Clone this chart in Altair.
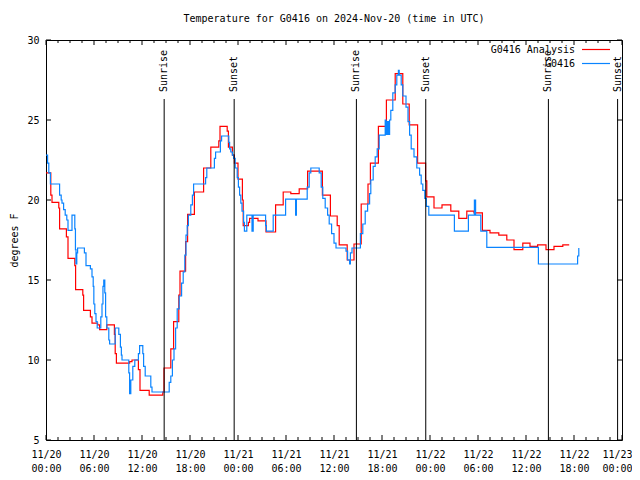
import altair as alt
import pandas as pd

FONT = "DejaVu Sans Mono"
TITLE = "Temperature for G0416 on 2024-Nov-20 (time in UTC)"
Y_TITLE = "degrees F"
SERIES = ["G0416 Analysis", "G0416"]
COLORS = ["#ff0000", "#0a84ff"]

# Analysis (red), step changes: hour since 11/20 00:00 UTC, temperature F
red_hours = [0.0, 0.6, 0.75, 1.6, 1.7, 2.55, 2.75, 3.6, 3.7, 4.6, 4.7, 5.55, 5.75, 6.45, 6.7,
             7.6, 8.55, 8.65, 8.8, 10.45, 10.75, 11.55, 11.75, 12.9, 14.6, 14.75, 15.6, 15.95,
             16.6, 16.75, 17.45, 17.7, 18.55, 19.7, 20.6, 21.6, 21.75, 22.65, 22.8, 23.3, 23.55,
             24.0, 24.55, 24.65, 25.3, 25.45, 26.5, 27.5, 28.7, 29.65, 30.6, 31.65, 32.7, 34.55,
             35.55, 36.4, 36.65, 37.65, 38.5, 39.4, 40.25, 40.55, 41.55, 42.55, 43.65, 44.6,
             45.4, 46.45, 47.45, 47.6, 48.5, 49.5, 50.6, 51.6, 52.6, 53.5, 54.55, 55.5, 56.6,
             57.6, 58.5, 59.6, 60.5, 61.45, 62.5, 63.5, 64.6, 65.4]
red_temps = [21.7, 20.3, 19.85, 19.5, 18.2, 17.7, 16.35, 15.9, 14.4, 14.05, 13.1, 12.7, 12.3, 12.2, 11.9,
             12.2, 11.6, 10.4, 9.8, 9.9, 10.0, 9.4, 8.1, 7.8, 8.0, 9.5, 10.7, 12.4,
             14.05, 15.55, 17.4, 19.1, 20.5, 22.0, 23.3, 23.7, 24.6, 24.3, 23.3, 22.8, 22.3,
             21.3, 20.0, 18.4, 18.6, 18.85, 18.7, 18.0, 19.7, 20.5, 20.4, 20.7, 21.8, 20.3,
             19.0, 18.4, 17.2, 16.25, 17.25, 19.75, 21.0, 22.3, 24.6, 26.25, 27.9, 26.0,
             24.7, 22.3, 21.2, 20.2, 19.5, 19.7, 19.3, 18.85, 19.3, 19.2, 18.1, 17.95, 17.8,
             17.5, 16.9, 17.3, 17.1, 17.2, 16.9, 17.1, 17.2, 17.2]

# Observed (blue), step changes
blue_hours = [0.0, 0.2, 0.35, 0.55, 1.7, 1.9, 2.0, 2.2, 2.4, 2.6, 2.75, 3.25, 3.6, 3.68, 3.75, 3.85,
              3.95, 4.8, 5.0, 5.55, 5.75, 5.9, 5.98, 6.1, 6.25, 6.4, 6.85, 7.0, 7.12, 7.22, 7.35,
              7.45, 7.6, 7.85, 7.95, 8.65, 9.1, 9.3, 9.42, 9.5, 10.35, 10.45, 10.6, 10.85, 11.1,
              11.55, 11.7, 12.1, 12.2, 12.4, 13.1, 13.25, 15.4, 15.6, 15.8, 16.0, 16.2, 16.4,
              16.65, 16.95, 17.15, 17.35, 17.5, 17.65, 17.8, 18.1, 18.3, 18.45, 19.95, 20.1,
              21.05, 21.2, 21.8, 21.95, 22.85, 22.95, 23.1, 23.3, 23.45, 23.65, 23.9, 24.05,
              24.2, 24.35, 24.5, 24.7, 24.8, 25.1, 25.75, 25.9, 27.45, 27.55, 28.4, 29.95,
              31.2, 31.3, 32.65, 32.9, 33.1, 34.15, 34.4, 34.6, 34.9, 35.2, 35.4, 35.7, 36.0,
              36.25, 37.5, 37.7, 37.95, 38.05, 38.25, 39.3, 39.6, 39.9, 40.2, 40.45, 40.6,
              40.9, 41.15, 41.4, 41.65, 42.4, 42.5, 42.65, 42.8, 42.95, 43.1, 43.35, 43.65,
              43.85, 44.05, 44.15, 44.4, 44.6, 45.0, 45.25, 45.45, 45.65, 46.0, 46.35, 46.7,
              46.9, 47.1, 47.35, 47.55, 47.85, 51.05, 52.8, 53.55, 53.7, 54.35, 55.1, 61.55,
              66.45, 66.6]
blue_temps = [22.8, 22.3, 21.7, 21.0, 20.3, 20.0, 19.8, 19.4, 19.06, 18.75, 18.1, 19.06, 18.2, 16.9, 16.0, 16.7,
              17.0, 16.7, 15.9, 15.7, 15.2, 14.6, 13.5, 12.9, 12.4, 12.0, 12.7, 13.5, 14.6, 15.0, 14.2,
              12.7, 12.0, 11.25, 11.0, 12.0, 11.6, 10.8, 10.3, 10.0, 9.2, 7.9, 8.75, 9.6, 10.0,
              10.4, 10.9, 10.4, 9.6, 9.0, 8.3, 8.0, 8.6, 9.0, 10.0, 10.7, 12.0, 13.2,
              14.0, 14.8, 15.5, 16.56, 17.8, 18.4, 19.06, 19.7, 20.3, 21.0, 21.4, 22.0,
              22.6, 23.0, 23.7, 24.0, 23.6, 23.2, 23.0, 22.8, 22.6, 22.0, 21.4, 20.8,
              20.3, 19.8, 19.3, 18.6, 18.06, 19.06, 18.06, 19.06, 18.4, 18.06, 19.06, 20.06,
              19.06, 20.06, 20.8, 21.7, 22.0, 21.7, 20.8, 20.1, 19.5, 19.06, 18.5, 17.9, 17.3,
              17.0, 16.8, 16.25, 16.0, 16.7, 17.0, 17.9, 18.5, 19.3, 19.75, 20.4, 21.25,
              22.1, 22.7, 23.2, 24.06, 25.0, 24.1, 24.9, 24.1, 25.0, 25.6, 26.7, 27.2,
              27.8, 28.1, 27.8, 27.2, 26.5, 25.8, 24.9, 24.06, 23.2, 22.7, 22.0, 21.56,
              21.0, 20.6, 20.1, 19.6, 19.06, 18.06, 19.06, 20.0, 19.06, 18.06, 17.04, 16.0,
              16.5, 17.0]

event_hours = [14.77, 23.52, 38.8, 47.47, 62.8, 71.45]
event_labels = ["Sunrise", "Sunset", "Sunrise", "Sunset", "Sunrise", "Sunset"]

x_tick_hours = [0, 6, 12, 18, 24, 30, 36, 42, 48, 54, 60, 66, 72]
x_tick_dates = ["11/20", "11/20", "11/20", "11/20", "11/21", "11/21", "11/21", "11/21",
                "11/22", "11/22", "11/22", "11/22", "11/23"]
x_tick_times = ["00:00", "06:00", "12:00", "18:00", "00:00", "06:00", "12:00", "18:00",
                "00:00", "06:00", "12:00", "18:00", "00:00"]
x_minor_hours = [1.5, 3, 4.5, 7.5, 9, 10.5, 13.5, 15, 16.5, 19.5, 21, 22.5, 25.5, 27, 28.5,
                 31.5, 33, 34.5, 37.5, 39, 40.5, 43.5, 45, 46.5, 49.5, 51, 52.5, 55.5, 57,
                 58.5, 61.5, 63, 64.5, 67.5, 69, 70.5]
y_tick_values = [5, 10, 15, 20, 25, 30]

W, H = 576, 400
LW = 1.2

xs = alt.Scale(domain=[0, 72], nice=False, zero=False)
ys = alt.Scale(domain=[5, 30], nice=False, zero=False)

label_js = "[" + ",".join(f"['{d}','{t}']" for d, t in zip(x_tick_dates, x_tick_times)) + "]"
x_axis = alt.Axis(values=x_tick_hours, labelExpr=label_js + "[round(datum.value/6)]",
                  ticks=False, domain=False, grid=False, labelFont=FONT, labelFontSize=10,
                  labelColor="black", labelBaseline="top", labelPadding=9, labelLineHeight=14,
                  labelFlush=False, labelOverlap=False, title=None,
                  labelOffset={"condition": {"test": f"datum.value == {x_tick_hours[-1]}", "value": -5},
                               "value": 0})
y_axis = alt.Axis(values=y_tick_values, ticks=False, domain=False, grid=False, labelFont=FONT,
                  labelFontSize=10, labelColor="black", labelPadding=7, title=Y_TITLE,
                  titleFont=FONT, titleFontSize=10, titleFontWeight="normal", titleColor="black",
                  titlePadding=7)

red_df = pd.DataFrame({"hour": red_hours, "temp": red_temps})
blue_df = pd.DataFrame({"hour": blue_hours, "temp": blue_temps})

red_line = alt.Chart(red_df).mark_line(interpolate="step-after", strokeWidth=LW, color=COLORS[0]).encode(
    x=alt.X("hour:Q", scale=xs, axis=x_axis),
    y=alt.Y("temp:Q", scale=ys, axis=y_axis),
)
blue_line = alt.Chart(blue_df).mark_line(interpolate="step-after", strokeWidth=LW, color=COLORS[1]).encode(
    x=alt.X("hour:Q", scale=xs),
    y=alt.Y("temp:Q", scale=ys),
)

ev_df = pd.DataFrame({"hour": event_hours, "label": event_labels})
ev_rules = alt.Chart(ev_df).mark_rule(color="black", strokeWidth=1).encode(
    x=alt.X("hour:Q", scale=xs), y=alt.value(59), y2=alt.value(H))
ev_text = alt.Chart(ev_df).mark_text(angle=270, align="left", baseline="middle", font=FONT,
                                     fontSize=10, color="black").encode(
    x=alt.X("hour:Q", scale=xs), y=alt.value(52), text="label:N")

maj_df = pd.DataFrame({"h": x_tick_hours})
min_df = pd.DataFrame({"h": x_minor_hours})
yt_df = pd.DataFrame({"v": y_tick_values})

def xticks(df, length):
    b = alt.Chart(df).mark_rule(color="black", strokeWidth=1).encode(
        x=alt.X("h:Q", scale=xs), y=alt.value(H), y2=alt.value(H - length))
    t = alt.Chart(df).mark_rule(color="black", strokeWidth=1).encode(
        x=alt.X("h:Q", scale=xs), y=alt.value(0), y2=alt.value(length))
    return [b, t]

ytl = alt.Chart(yt_df).mark_rule(color="black", strokeWidth=1).encode(
    y=alt.Y("v:Q", scale=ys), x=alt.value(0), x2=alt.value(5))
ytr = alt.Chart(yt_df).mark_rule(color="black", strokeWidth=1).encode(
    y=alt.Y("v:Q", scale=ys), x=alt.value(W - 5), x2=alt.value(W))

leg_df = pd.DataFrame({"name": SERIES, "color": COLORS})
leg_layers = []
for i, (name, col) in enumerate(zip(SERIES, COLORS)):
    d = leg_df.iloc[[i]]
    yy = 9.5 + 14 * i
    leg_layers.append(alt.Chart(d).mark_text(align="right", baseline="middle", font=FONT,
                                             fontSize=10, color="black").encode(
        x=alt.value(529), y=alt.value(yy), text="name:N"))
    leg_layers.append(alt.Chart(d).mark_rule(color=col, strokeWidth=LW).encode(
        x=alt.value(536), x2=alt.value(564), y=alt.value(yy)))

title_df = pd.DataFrame({"t": [TITLE]})
title = alt.Chart(title_df).mark_text(align="center", baseline="middle", font=FONT, fontSize=10,
                                      color="black").encode(
    x=alt.value(W / 2), y=alt.value(-21), text="t:N")

chart = alt.layer(
    red_line, blue_line, ev_rules, ev_text, *xticks(maj_df, 5), *xticks(min_df, 3), ytl, ytr,
    *leg_layers, title
).properties(
    width=W, height=H,
    padding={"left": 38, "top": 32, "right": 10, "bottom": 34},
    autosize=alt.AutoSizeParams(type="none"),
    background="white",
).configure_view(stroke="black", strokeWidth=1)

chart.save("out.html", embed_options={"renderer": "svg", "actions": False})
